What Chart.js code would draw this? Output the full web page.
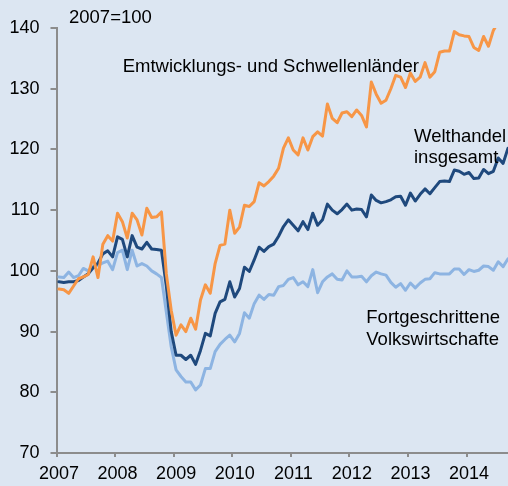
<!DOCTYPE html>
<html>
<head>
<meta charset="utf-8">
<script src="https://cdn.jsdelivr.net/npm/chart.js@4.4.1/dist/chart.umd.min.js"></script>
<style>
html,body{margin:0;padding:0;background:#DCE6F2;overflow:hidden;}
#wrap{position:relative;width:508px;height:486px;}
</style>
</head>
<body>
<div id="wrap"><canvas id="c" width="508" height="486"></canvas></div>
<script>
// Monthly index values, 2007=100, starting January 2007
const yearTicks = ['2007','2008','2009','2010','2011','2012','2013','2014'];

const emerging = [
  97.0, 96.9, 96.3, 97.5, 98.7, 99.0, 99.4, 102.3, 98.9, 104.4, 105.8, 104.9,
  109.5, 108.1, 105.4, 109.5, 108.4, 105.9, 110.3, 108.8, 108.9, 109.7, 99.5, 93.5,
  89.4, 91.1, 90.0, 92.2, 90.4, 95.2, 97.7, 96.3, 101.2, 104.2, 104.4, 110.0,
  106.2, 107.2, 110.8, 110.6, 111.4, 114.5, 114.0, 114.7, 115.6, 116.9, 120.2, 121.9,
  119.9, 119.1, 121.9, 119.9, 122.1, 122.9, 122.2, 127.5, 125.1, 124.4, 126.0, 126.2,
  125.4, 126.5, 125.6, 123.7, 131.1, 129.1, 127.6, 128.1, 130.0, 132.2, 131.9, 130.2,
  132.6, 131.2, 131.9, 134.3, 131.9, 132.8, 136.0, 136.2, 136.2, 139.4, 138.9, 138.7,
  138.6, 136.8, 136.3, 138.6, 137.0, 139.6, 141.0
];

const worldTrade = [
  98.2, 98.1, 98.2, 98.2, 98.4, 99.0, 99.5, 100.5, 101.3, 102.8, 103.3, 102.3,
  105.6, 105.2, 102.3, 105.8, 103.9, 103.6, 104.7, 103.6, 103.5, 103.4, 97.5, 90.0,
  86.1, 86.1, 85.4, 86.1, 84.6, 86.9, 89.7, 89.3, 93.0, 94.9, 95.3, 98.2,
  95.7, 97.1, 100.6, 99.9, 101.8, 103.9, 103.2, 104.0, 104.4, 105.7, 107.3, 108.4,
  107.5, 106.6, 108.1, 106.8, 109.5, 107.5, 108.4, 111.0, 110.0, 109.4, 110.1, 111.0,
  110.0, 110.2, 110.1, 108.9, 112.5, 111.6, 111.2, 111.4, 111.7, 112.2, 112.3, 110.8,
  112.8, 111.5, 112.6, 113.5, 112.7, 113.7, 114.7, 114.8, 114.7, 116.6, 116.4, 115.9,
  116.2, 115.2, 115.3, 116.7, 116.0, 116.4, 118.6, 117.7, 120.2
];

const advanced = [
  99.0, 98.9, 99.8, 98.9, 99.2, 100.4, 100.0, 100.8, 100.9, 101.3, 101.6, 100.2,
  103.0, 103.4, 100.2, 103.4, 100.8, 101.2, 100.8, 100.0, 99.5, 98.9, 93.2, 87.5,
  83.7, 82.6, 81.7, 81.7, 80.4, 81.2, 83.9, 83.9, 86.7, 87.9, 88.7, 89.4,
  88.3, 89.7, 93.1, 92.2, 94.6, 96.0, 95.3, 96.1, 96.0, 97.4, 97.6, 98.6,
  98.9, 97.7, 98.2, 97.4, 100.2, 96.4, 98.2, 99.0, 99.5, 98.6, 98.5, 100.0,
  99.0, 99.0, 99.1, 98.2, 99.2, 99.8, 99.5, 99.3, 98.1, 97.3, 97.9, 96.8,
  98.0, 97.2, 98.0, 98.6, 98.7, 99.7, 99.5, 99.5, 99.5, 100.3, 100.3, 99.4,
  100.2, 99.9, 100.1, 100.8, 100.7, 100.1, 101.5, 100.7, 102.0
];

const FONT = "'Liberation Sans', Arial, sans-serif";
const AXIS = '#8c8c8c';

// month i is plotted at the middle of its month on a month-based linear axis
const toPoints = arr => arr.map((v, i) => ({x: i + 0.5, y: v}));

const annotations = [
  {text: '2007=100', x: 69, y: 23.3},
  {text: 'Emtwicklungs- und Schwellenländer', x: 122.7, y: 71.7},
  {text: 'Welthandel', x: 414, y: 141.7},
  {text: 'insgesamt', x: 414, y: 163.3},
  {text: 'Fortgeschrittene', x: 366.3, y: 323},
  {text: 'Volkswirtschafte', x: 366.3, y: 344.7}
];

const bgPlugin = {
  id: 'bg',
  beforeDraw(chart) {
    const c = chart.ctx;
    c.save();
    c.fillStyle = '#DCE6F2';
    c.fillRect(0, 0, chart.width, chart.height);
    c.restore();
  }
};

const textPlugin = {
  id: 'texts',
  afterDraw(chart) {
    const c = chart.ctx;
    c.save();
    c.fillStyle = '#000';
    c.font = "18.5px " + FONT;
    c.textAlign = 'left';
    c.textBaseline = 'alphabetic';
    annotations.forEach(a => c.fillText(a.text, a.x, a.y));
    c.restore();
  }
};

const lineStyle = {
  borderWidth: 3,
  pointRadius: 0,
  tension: 0,
  fill: false,
  borderJoinStyle: 'round',
  borderCapStyle: 'round'
};

new Chart(document.getElementById('c'), {
  type: 'line',
  data: {
    datasets: [
      Object.assign({label: 'Emtwicklungs- und Schwellenländer', data: toPoints(emerging), borderColor: '#F79646'}, lineStyle),
      Object.assign({label: 'Welthandel insgesamt', data: toPoints(worldTrade), borderColor: '#1F497D'}, lineStyle),
      Object.assign({label: 'Fortgeschrittene Volkswirtschafte', data: toPoints(advanced), borderColor: '#8DB4E2'}, lineStyle)
    ]
  },
  options: {
    responsive: false,
    animation: false,
    layout: {padding: {top: 28, right: 0, bottom: 0, left: 0}},
    plugins: {legend: {display: false}, tooltip: {enabled: false}},
    scales: {
      x: {
        type: 'linear',
        min: 0,
        max: 92.5,
        afterBuildTicks: s => { s.ticks = yearTicks.map((y, k) => ({value: k * 12})); },
        afterFit: s => { s.height = 33; },
        ticks: {
          autoSkip: false,
          maxRotation: 0,
          color: '#000',
          padding: 6,
          labelOffset: 2.5,
          font: {family: FONT, size: 18},
          callback: v => yearTicks[Math.round(v / 12)]
        },
        grid: {drawOnChartArea: false, drawTicks: true, tickLength: 4, color: AXIS, lineWidth: 2},
        border: {display: true, color: AXIS, width: 2}
      },
      y: {
        min: 70,
        max: 140,
        afterFit: s => { s.width = 56.5; },
        ticks: {
          stepSize: 10,
          color: '#000',
          padding: 11,
          font: {family: FONT, size: 18}
        },
        grid: {drawOnChartArea: false, drawTicks: true, tickLength: 6, color: AXIS, lineWidth: 2},
        border: {display: true, color: AXIS, width: 2}
      }
    }
  },
  plugins: [bgPlugin, textPlugin]
});
</script>
</body>
</html>
